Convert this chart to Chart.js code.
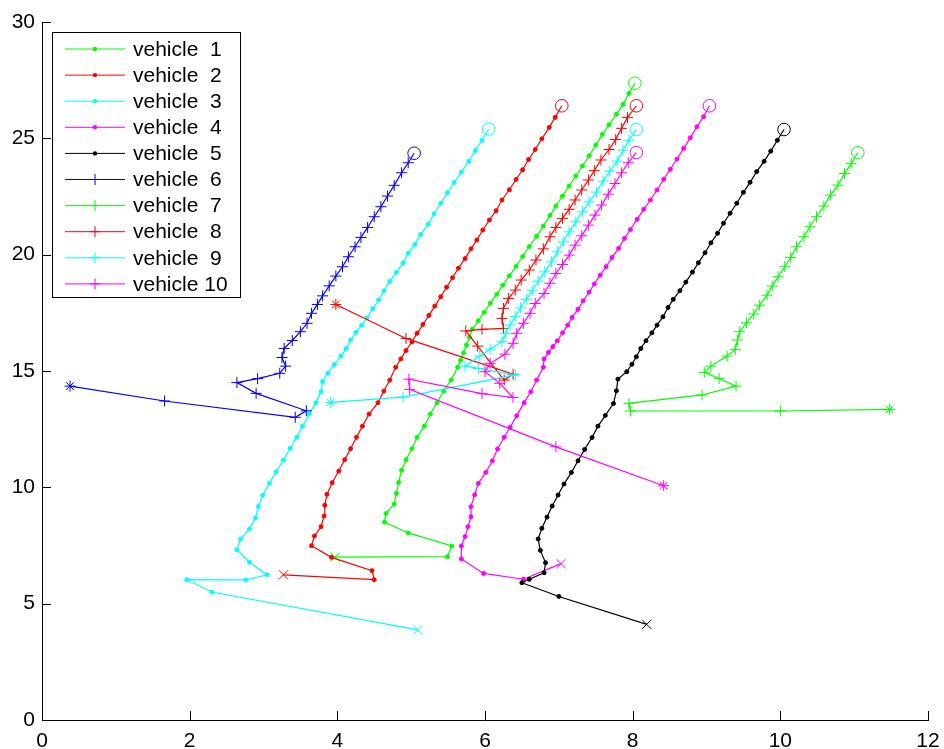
<!DOCTYPE html>
<html>
<head>
<meta charset="utf-8">
<script src="https://cdn.jsdelivr.net/npm/chart.js@4.4.0/dist/chart.umd.min.js"></script>
<style>
  html, body { margin: 0; padding: 0; background: #fff; }
</style>
</head>
<body>
<canvas id="chartVeiculos" width="944" height="749"></canvas>
<script>
// nomes e cores
const labels = ['vehicle  1', 'vehicle  2', 'vehicle  3', 'vehicle  4', 'vehicle  5',
                'vehicle  6', 'vehicle  7', 'vehicle  8', 'vehicle  9', 'vehicle 10'];
const colors = ['#00ff00', '#ff0000', '#00ffff', '#ff00ff', '#000000',
                '#0000ff', '#00ff00', '#ff0000', '#00ffff', '#ff00ff'];
const xTicks = [0, 2, 4, 6, 8, 10, 12];
const yTicks = [0, 5, 10, 15, 20, 25, 30];

// trajetórias (x, y)
const v1x = [3.97, 5.49, 5.55, 4.96, 4.64, 4.66, 4.77, 4.80, 4.83, 4.87, 4.93, 5.01, 5.08, 5.18, 5.26, 5.35, 5.44, 5.54, 5.63, 5.67, 5.71, 5.75, 5.79, 5.83, 5.91, 5.99, 6.07, 6.16, 6.24, 6.33, 6.42, 6.51, 6.60, 6.70, 6.79, 6.88, 6.96, 7.05, 7.14, 7.23, 7.32, 7.41, 7.50, 7.59, 7.68, 7.78, 7.87, 7.95, 8.03];
const v1y = [7.00, 7.02, 7.48, 8.04, 8.50, 8.87, 9.28, 9.74, 10.21, 10.73, 11.19, 11.66, 12.15, 12.63, 13.15, 13.64, 14.14, 14.61, 15.16, 15.46, 15.78, 16.11, 16.45, 16.80, 17.16, 17.53, 17.91, 18.30, 18.69, 19.09, 19.50, 19.92, 20.35, 20.79, 21.23, 21.69, 22.09, 22.52, 22.95, 23.38, 23.81, 24.25, 24.71, 25.17, 25.58, 26.04, 26.46, 26.93, 27.37];

const v2x = [3.27, 4.50, 4.47, 3.92, 3.65, 3.69, 3.78, 3.82, 3.83, 3.86, 3.93, 4.02, 4.10, 4.18, 4.26, 4.34, 4.43, 4.55, 4.63, 4.71, 4.79, 4.86, 4.93, 5.01, 5.08, 5.16, 5.24, 5.32, 5.40, 5.48, 5.56, 5.64, 5.73, 5.81, 5.89, 5.97, 6.06, 6.15, 6.23, 6.33, 6.42, 6.51, 6.59, 6.68, 6.77, 6.87, 6.95, 7.04];
const v2y = [6.24, 6.03, 6.42, 6.99, 7.49, 7.91, 8.31, 8.77, 9.23, 9.70, 10.20, 10.70, 11.19, 11.66, 12.15, 12.63, 13.15, 13.64, 14.14, 14.61, 15.16, 15.52, 15.88, 16.25, 16.62, 17.00, 17.39, 17.79, 18.19, 18.60, 19.01, 19.42, 19.83, 20.25, 20.63, 21.06, 21.49, 21.89, 22.35, 22.79, 23.23, 23.65, 24.09, 24.52, 24.98, 25.47, 25.90, 26.40];

const v3x = [5.09, 2.30, 1.96, 2.76, 3.05, 2.81, 2.64, 2.69, 2.81, 2.89, 2.93, 2.99, 3.08, 3.17, 3.27, 3.36, 3.45, 3.53, 3.62, 3.71, 3.78, 3.80, 3.87, 3.96, 4.05, 4.12, 4.18, 4.25, 4.33, 4.40, 4.48, 4.56, 4.63, 4.71, 4.80, 4.89, 4.96, 5.05, 5.13, 5.23, 5.31, 5.40, 5.49, 5.58, 5.68, 5.78, 5.87, 5.96, 6.05];
const v3y = [3.87, 5.50, 6.03, 6.02, 6.24, 6.78, 7.32, 7.78, 8.21, 8.68, 9.18, 9.66, 10.17, 10.67, 11.17, 11.67, 12.15, 12.63, 13.15, 13.64, 14.11, 14.55, 14.90, 15.28, 15.64, 15.97, 16.33, 16.66, 16.97, 17.28, 17.68, 18.05, 18.44, 18.85, 19.24, 19.65, 20.06, 20.44, 20.87, 21.31, 21.76, 22.21, 22.66, 23.09, 23.55, 24.01, 24.47, 24.92, 25.40];

const v4x = [7.03, 6.52, 5.98, 5.68, 5.68, 5.73, 5.77, 5.81, 5.81, 5.86, 5.91, 6.01, 6.10, 6.17, 6.26, 6.34, 6.43, 6.53, 6.62, 6.70, 6.79, 6.80, 6.86, 6.92, 6.98, 7.05, 7.12, 7.18, 7.26, 7.33, 7.41, 7.48, 7.56, 7.64, 7.72, 7.81, 7.89, 7.97, 8.06, 8.15, 8.24, 8.33, 8.42, 8.51, 8.60, 8.69, 8.78, 8.87, 8.96, 9.04];
const v4y = [6.72, 6.05, 6.30, 6.92, 7.48, 7.88, 8.31, 8.74, 9.17, 9.68, 10.17, 10.64, 11.14, 11.65, 12.15, 12.58, 13.08, 13.64, 14.11, 14.61, 15.16, 15.52, 15.80, 16.05, 16.30, 16.64, 16.97, 17.30, 17.65, 18.02, 18.39, 18.74, 19.12, 19.48, 19.88, 20.27, 20.70, 21.08, 21.52, 21.95, 22.35, 22.78, 23.24, 23.67, 24.11, 24.57, 25.02, 25.50, 25.93, 26.40];

const v5x = [8.19, 7.00, 6.50, 6.60, 6.80, 6.82, 6.75, 6.72, 6.77, 6.84, 6.91, 6.99, 7.07, 7.17, 7.26, 7.35, 7.45, 7.53, 7.63, 7.74, 7.78, 7.80, 7.92, 7.99, 8.05, 8.11, 8.18, 8.26, 8.33, 8.41, 8.48, 8.55, 8.64, 8.72, 8.81, 8.89, 8.98, 9.06, 9.15, 9.23, 9.32, 9.41, 9.50, 9.59, 9.68, 9.78, 9.87, 9.96, 10.05];
const v5y = [4.11, 5.31, 5.90, 6.05, 6.33, 6.76, 7.29, 7.78, 8.24, 8.72, 9.20, 9.67, 10.14, 10.64, 11.14, 11.63, 12.14, 12.63, 13.09, 13.60, 14.15, 14.65, 14.97, 15.29, 15.61, 15.97, 16.30, 16.64, 16.97, 17.33, 17.73, 18.08, 18.45, 18.82, 19.25, 19.65, 20.08, 20.51, 20.92, 21.35, 21.78, 22.21, 22.68, 23.11, 23.57, 24.01, 24.45, 24.92, 25.38];

const v6x = [0.38, 1.66, 3.43, 3.58, 2.90, 2.64, 2.92, 3.22, 3.30, 3.25, 3.28, 3.39, 3.50, 3.59, 3.65, 3.73, 3.80, 3.89, 3.98, 4.07, 4.15, 4.24, 4.32, 4.41, 4.50, 4.59, 4.68, 4.77, 4.87, 4.96, 5.04];
const v6y = [14.35, 13.71, 13.01, 13.29, 14.04, 14.50, 14.67, 14.90, 15.21, 15.58, 15.97, 16.31, 16.69, 17.05, 17.48, 17.86, 18.23, 18.66, 19.08, 19.48, 19.91, 20.34, 20.74, 21.17, 21.63, 22.06, 22.52, 22.98, 23.52, 23.95, 24.36];

const v7x = [11.48, 10.00, 7.97, 7.95, 8.94, 9.40, 9.17, 8.97, 9.06, 9.28, 9.39, 9.42, 9.45, 9.54, 9.64, 9.72, 9.82, 9.89, 9.97, 10.06, 10.14, 10.22, 10.32, 10.40, 10.49, 10.59, 10.68, 10.78, 10.87, 10.96, 11.05];
const v7y = [13.35, 13.28, 13.28, 13.61, 13.97, 14.35, 14.68, 14.94, 15.21, 15.64, 15.93, 16.33, 16.69, 17.07, 17.45, 17.83, 18.26, 18.65, 19.05, 19.48, 19.88, 20.34, 20.77, 21.20, 21.63, 22.09, 22.56, 22.99, 23.49, 23.91, 24.38];

const v8x = [3.98, 4.93, 6.38, 6.26, 5.90, 5.74, 5.96, 6.25, 6.23, 6.25, 6.32, 6.41, 6.49, 6.60, 6.69, 6.79, 6.88, 6.96, 7.05, 7.14, 7.22, 7.31, 7.40, 7.48, 7.57, 7.68, 7.77, 7.85, 7.93, 8.05];
const v8y = [17.86, 16.40, 14.86, 14.61, 16.07, 16.72, 16.79, 16.83, 17.26, 17.69, 18.12, 18.48, 18.91, 19.34, 19.77, 20.25, 20.77, 21.17, 21.56, 21.95, 22.35, 22.78, 23.21, 23.61, 24.07, 24.52, 24.95, 25.43, 25.90, 26.40];

const v9x = [3.91, 4.89, 6.41, 5.91, 5.73, 5.93, 6.07, 6.23, 6.28, 6.34, 6.41, 6.48, 6.56, 6.64, 6.72, 6.81, 6.90, 6.98, 7.06, 7.14, 7.23, 7.32, 7.41, 7.51, 7.60, 7.69, 7.79, 7.87, 7.95, 8.05];
const v9y = [13.65, 13.88, 14.83, 15.11, 15.21, 15.64, 15.94, 16.26, 16.62, 16.98, 17.34, 17.71, 18.08, 18.47, 18.86, 19.26, 19.69, 20.12, 20.55, 20.98, 21.41, 21.84, 22.27, 22.69, 23.16, 23.59, 24.02, 24.49, 24.92, 25.38];

const v10x = [8.42, 6.96, 4.98, 4.97, 5.96, 6.38, 6.20, 6.00, 6.07, 6.27, 6.38, 6.43, 6.52, 6.61, 6.68, 6.80, 6.88, 6.96, 7.05, 7.14, 7.22, 7.31, 7.40, 7.49, 7.58, 7.67, 7.76, 7.85, 7.94, 8.05];
const v10y = [10.07, 11.74, 14.21, 14.65, 14.03, 13.86, 14.47, 14.97, 15.33, 15.72, 16.19, 16.62, 17.05, 17.48, 17.90, 18.33, 18.77, 19.19, 19.58, 19.98, 20.41, 20.81, 21.27, 21.70, 22.13, 22.60, 23.06, 23.52, 23.95, 24.39];

const tracks = [[v1x, v1y], [v2x, v2y], [v3x, v3y], [v4x, v4y], [v5x, v5y],
                [v6x, v6y], [v7x, v7y], [v8x, v8y], [v9x, v9y], [v10x, v10y]];

Chart.defaults.font.family = '"Liberation Sans", Arial, Helvetica, sans-serif';
Chart.defaults.font.size = 21;
Chart.defaults.color = '#000';

// veículos 1-5: pontos '.', 6-10: '+'; início 'x' ou '*', fim 'o'
const datasets = tracks.map(([xs, ys], i) => {
  const n = xs.length;
  const dot = i < 5;
  return {
    label: labels[i],
    data: xs.map((x, k) => ({ x: x, y: ys[k] })),
    showLine: true,
    borderColor: colors[i],
    borderWidth: 1.2,
    tension: 0,
    pointStyle: xs.map((_, k) => k === 0 ? (dot ? 'crossRot' : 'star') : (k === n - 1 ? 'circle' : (dot ? 'circle' : 'cross'))),
    pointRadius: xs.map((_, k) => k === 0 ? (dot ? 6.5 : 5.5) : (k === n - 1 ? 6.3 : (dot ? 2 : 5.5))),
    pointBorderColor: colors[i],
    pointBackgroundColor: xs.map((_, k) => (dot && k > 0 && k < n - 1) ? colors[i] : 'rgba(0,0,0,0)'),
    pointBorderWidth: 1,
    order: 10 - i
  };
});

// ticks para dentro
const inwardTicks = {
  id: 'inwardTicks',
  afterDraw(chart) {
    const { ctx, chartArea: a, scales: { x, y } } = chart;
    ctx.save();
    ctx.strokeStyle = '#000';
    ctx.lineWidth = 1;
    ctx.beginPath();
    xTicks.forEach(v => {
      const px = Math.round(x.getPixelForValue(v)) + 0.5;
      ctx.moveTo(px, a.bottom); ctx.lineTo(px, a.bottom - 9);
    });
    yTicks.forEach(v => {
      const py = Math.round(y.getPixelForValue(v)) + 0.5;
      ctx.moveTo(a.left, py); ctx.lineTo(a.left + 9, py);
    });
    ctx.stroke();
    ctx.restore();
  }
};

// legenda estilo matlab
const legendBox = {
  id: 'legendBox',
  afterDraw(chart) {
    const ctx = chart.ctx;
    ctx.save();
    ctx.fillStyle = '#fff';
    ctx.fillRect(52.5, 32.5, 188, 265);
    ctx.strokeStyle = '#000';
    ctx.lineWidth = 1;
    ctx.strokeRect(52.5, 32.5, 188, 265);
    ctx.font = '21px "Liberation Sans", Arial, sans-serif';
    ctx.textBaseline = 'middle';
    labels.forEach((txt, i) => {
      const yy = 49 + i * 26.1;
      ctx.strokeStyle = colors[i];
      ctx.fillStyle = colors[i];
      ctx.beginPath();
      ctx.moveTo(65, yy); ctx.lineTo(125, yy);
      ctx.stroke();
      if (i < 5) {
        ctx.beginPath();
        ctx.arc(95, yy, 2.2, 0, Math.PI * 2);
        ctx.fill();
      } else {
        ctx.beginPath();
        ctx.moveTo(89.5, yy); ctx.lineTo(100.5, yy);
        ctx.moveTo(95, yy - 5.5); ctx.lineTo(95, yy + 5.5);
        ctx.stroke();
      }
      ctx.fillStyle = '#000';
      ctx.fillText(txt, 133, yy + 1);
    });
    ctx.restore();
  }
};

new Chart(document.getElementById('chartVeiculos'), {
  type: 'scatter',
  data: { datasets: datasets },
  options: {
    responsive: false,
    animation: false,
    layout: { padding: { top: 22, right: 16, left: 0, bottom: 0 } },
    plugins: { legend: { display: false }, tooltip: { enabled: false } },
    scales: {
      x: {
        type: 'linear', min: 0, max: 12,
        afterBuildTicks: s => { s.ticks = xTicks.map(v => ({ value: v })); },
        afterFit: s => { s.height = 29; s.paddingLeft = 0; s.paddingRight = 0; },
        ticks: { padding: 9, maxRotation: 0 },
        grid: { drawOnChartArea: false, drawTicks: false },
        border: { color: '#000', width: 1 }
      },
      y: {
        type: 'linear', min: 0, max: 30,
        afterBuildTicks: s => { s.ticks = yTicks.map(v => ({ value: v })); },
        afterFit: s => { s.width = 42; s.paddingTop = 0; s.paddingBottom = 0; },
        ticks: { padding: 7 },
        grid: { drawOnChartArea: false, drawTicks: false },
        border: { color: '#000', width: 1 }
      }
    }
  },
  plugins: [inwardTicks, legendBox]
});
</script>
</body>
</html>
